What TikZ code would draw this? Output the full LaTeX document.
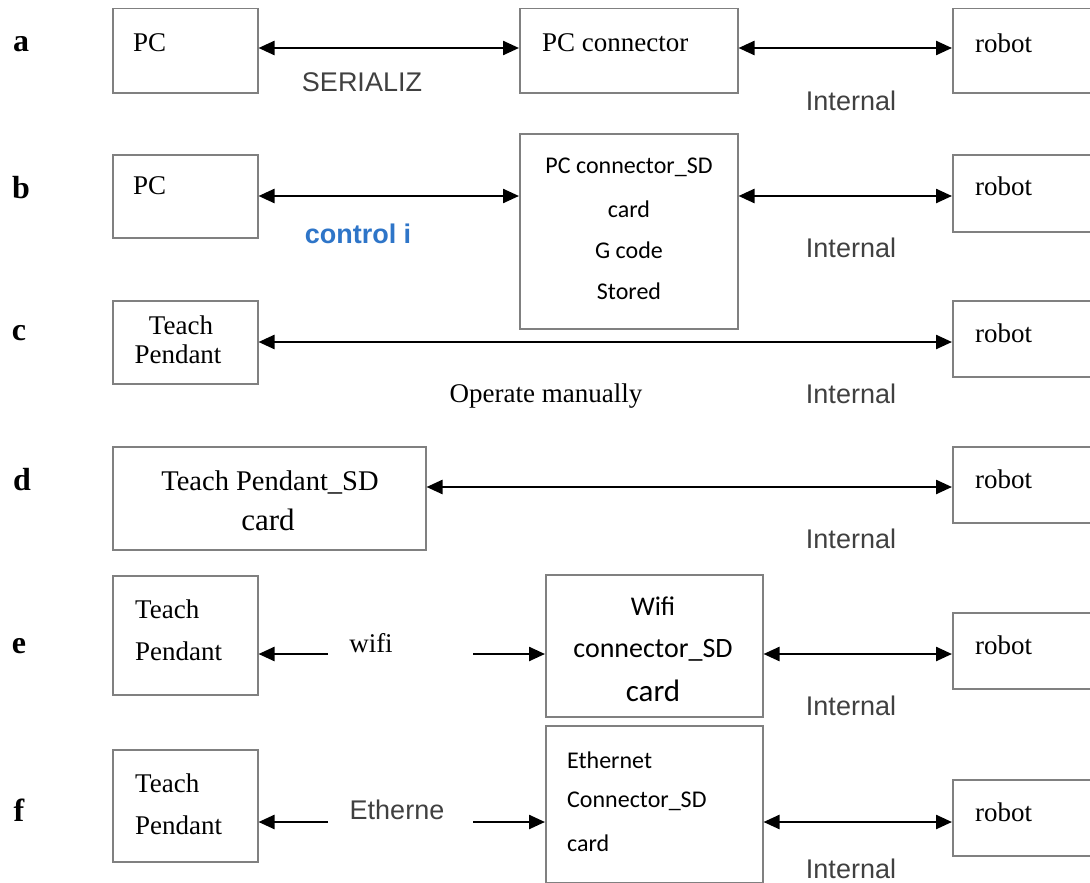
\documentclass[tikz,border=0pt]{standalone}
\usepackage{fontspec}
\setmainfont{Liberation Serif}
\newfontfamily\arialf{Liberation Sans}
\newfontfamily\calf{Carlito}
\usetikzlibrary{arrows.meta}
\definecolor{boxgray}{RGB}{128,128,128}
\definecolor{capgray}{RGB}{64,64,64}
\definecolor{ctlblue}{RGB}{46,117,200}
\tikzset{
  x=1pt, y=-1pt,
  box/.style={draw=boxgray, line width=1.5pt, inner sep=0pt, anchor=north west},
  tm/.style={inner sep=0pt, font=\fontsize{27}{32}\selectfont},
  tmw/.style={tm, anchor=west},
  lab/.style={inner sep=0pt, font=\fontsize{32}{36}\selectfont\bfseries},
  captext/.style={inner sep=0pt, text=capgray, font=\arialf\fontsize{27}{32}\selectfont},
  cal/.style={inner sep=0pt, font=\calf\fontsize{24}{28}\selectfont},
  link/.style={line width=2.4pt, {Triangle[length=16pt,width=14pt]}-{Triangle[length=16pt,width=14pt]}},
  onelink/.style={line width=2.4pt, -{Triangle[length=16pt,width=14pt]}}
}
\begin{document}
\begin{tikzpicture}
\useasboundingbox (0,0) rectangle (1090,883);

% ---------- a : serial link ----------
\node[lab] (la) at (21,44) {a};
\node[box, minimum width=145, minimum height=84] (pa) at (112,8) {};
\node[box, minimum width=218, minimum height=84] (ca) at (519,8) {};
\node[box, minimum width=150, minimum height=84] (ra) at (952,8) {};
\node[tmw] (pat) at (133,43) {PC};
\node[tmw] (cat) at (542,43) {PC connector};
\node[tmw] (rat) at (975,43) {robot};
\node[captext] (sa) at (362,82) {SERIALIZ};
\node[captext] (ia) at (851,101) {Internal};
\draw[link] (pa.east |- 0,48) -- (ca.west |- 0,48);
\draw[link] (ca.east |- 0,48) -- (ra.west |- 0,48);

% ---------- b : SD card on the connector ----------
\node[lab] (lb) at (21,188) {b};
\node[box, minimum width=145, minimum height=83] (pb) at (112,154) {};
\node[box, minimum width=218, minimum height=195] (cb) at (519,133) {};
\node[box, minimum width=150, minimum height=77] (rb) at (952,154) {};
\node[tmw] (pbt) at (133,186) {PC};
\node[cal] (cb1) at (629,167) {PC connector\_SD};
\node[cal] (cb2) at (629,209) {card};
\node[cal] (cb3) at (629,250) {G code};
\node[cal] (cb4) at (629,291) {Stored};
\node[tmw] (rbt) at (975,186) {robot};
\node[inner sep=0pt, text=ctlblue, font=\arialf\bfseries\fontsize{27}{32}\selectfont] (kb) at (358,234) {control i};
\node[captext] (ib) at (851,248) {Internal};
\draw[link] (pb.east |- 0,196) -- (cb.west |- 0,196);
\draw[link] (cb.east |- 0,196) -- (rb.west |- 0,196);

% ---------- c : manual operation ----------
\node[lab] (lc) at (19,333) {c};
\node[box, minimum width=145, minimum height=83] (tc) at (112,300) {};
\node[box, minimum width=150, minimum height=76] (rc) at (952,300) {};
\node[tm] (tc1) at (181,325) {Teach};
\node[tm] (tc2) at (178,354) {Pendant};
\node[tmw] (rct) at (975,333) {robot};
\node[tm] (oc) at (546,396) {Operate manually};
\node[captext] (ic) at (851,394) {Internal};
\draw[link] (tc.east |- 0,342) -- (rc.west |- 0,342);

% ---------- d : SD card on the pendant ----------
\node[lab] (ld) at (22,480) {d};
\node[box, minimum width=313, minimum height=103] (td) at (112,446) {};
\node[box, minimum width=150, minimum height=76] (rd) at (952,446) {};
\node[tm, font=\fontsize{28.5}{32}\selectfont] (td1) at (270,482) {Teach Pendant\_SD};
\node[tm, font=\fontsize{31}{36}\selectfont] (td2) at (268,520) {card};
\node[tmw] (rdt) at (975,479) {robot};
\node[captext] (id) at (851,539) {Internal};
\draw[link] (td.east |- 0,487) -- (rd.west |- 0,487);

% ---------- e : wifi ----------
\node[lab] (le) at (19,646) {e};
\node[box, minimum width=145, minimum height=119] (te) at (112,575) {};
\node[box, minimum width=217, minimum height=142] (we) at (545,574) {};
\node[box, minimum width=150, minimum height=76] (re) at (952,612) {};
\node[tmw] (te1) at (135,609) {Teach};
\node[tmw] (te2) at (135,651) {Pendant};
\node[tm] (wl) at (371,643) {wifi};
\node[cal, font=\calf\fontsize{27}{32}\selectfont] (we1) at (653,606) {Wifi};
\node[cal, font=\calf\fontsize{28}{32}\selectfont] (we2) at (653,650) {connector\_SD};
\node[cal, font=\calf\fontsize{31}{36}\selectfont] (we3) at (653,691) {card};
\node[tmw] (ret) at (975,645) {robot};
\node[captext] (ie) at (851,706) {Internal};
\coordinate (ea) at (328,654);
\coordinate (eb) at (473,654);
\draw[onelink] (ea) -- (te.east |- ea);
\draw[onelink] (eb) -- (we.west |- eb);
\draw[link] (we.east |- 0,654) -- (re.west |- 0,654);

% ---------- f : ethernet ----------
\node[lab] (lf) at (19,810) {f};
\node[box, minimum width=145, minimum height=112] (tf) at (112,749) {};
\node[box, minimum width=217, minimum height=157] (ef) at (545,725) {};
\node[box, minimum width=150, minimum height=76] (rf) at (952,779) {};
\node[tmw] (tf1) at (135,783) {Teach};
\node[tmw] (tf2) at (135,825) {Pendant};
\node[captext] (el) at (397,810) {Etherne};
\node[cal, anchor=west] (ef1) at (567,760) {Ethernet};
\node[cal, anchor=west] (ef2) at (567,801) {Connector\_SD};
\node[cal, anchor=west] (ef3) at (567,843) {card};
\node[tmw] (rft) at (975,812) {robot};
\node[captext] (iff) at (851,869) {Internal};
\coordinate (fa) at (328,822);
\coordinate (fb) at (473,822);
\draw[onelink] (fa) -- (tf.east |- fa);
\draw[onelink] (fb) -- (ef.west |- fb);
\draw[link] (ef.east |- 0,822) -- (rf.west |- 0,822);
\end{tikzpicture}
\end{document}
